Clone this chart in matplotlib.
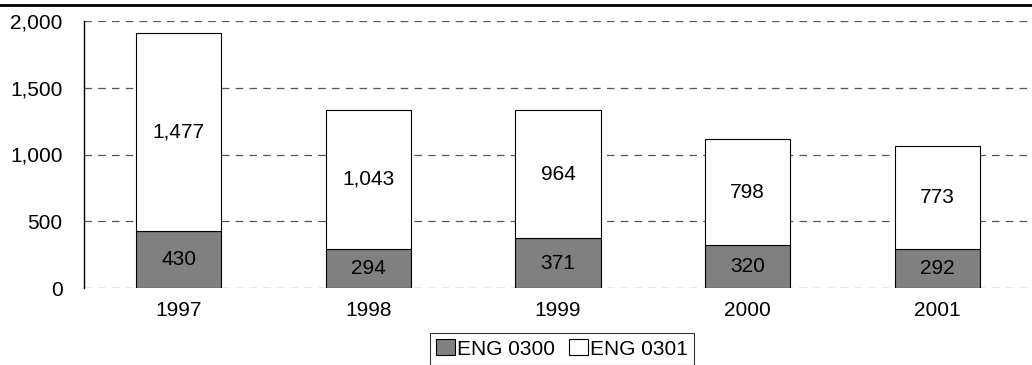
import matplotlib
matplotlib.use("Agg")
import matplotlib.pyplot as plt
from matplotlib.lines import Line2D

years = ["1997", "1998", "1999", "2000", "2001"]
eng0300 = [430, 294, 371, 320, 292]
eng0301 = [1477, 1043, 964, 798, 773]

plt.rcParams['font.family'] = ['Liberation Sans', 'DejaVu Sans']
fs = 15

fig = plt.figure(figsize=(10.32, 3.65), dpi=100)
ax = fig.add_axes([84/1032, 1 - 288/365, 948/1032, 267/365])

x = list(range(len(years)))
b1 = ax.bar(x, eng0300, width=0.45, color="#808080", edgecolor="black", linewidth=0.8,
            label="ENG 0300", zorder=3)
b2 = ax.bar(x, eng0301, width=0.45, bottom=eng0300, color="white", edgecolor="black",
            linewidth=0.8, label="ENG 0301", zorder=3)

for i in x:
    ax.text(i, eng0300[i] / 2, f"{eng0300[i]:,}", ha="center", va="center", fontsize=fs, zorder=4)
    ax.text(i, eng0300[i] + eng0301[i] / 2, f"{eng0301[i]:,}", ha="center", va="center",
            fontsize=fs, zorder=4)

ax.set_xlim(-0.5, len(years) - 0.5)
ax.set_ylim(0, 2000)
ax.set_yticks([0, 500, 1000, 1500, 2000])
ax.set_yticklabels([f"{v:,}" for v in [0, 500, 1000, 1500, 2000]], fontsize=fs)
ax.set_xticks(x)
ax.set_xticklabels(years, fontsize=fs)
ax.tick_params(axis="y", length=0, pad=15.5)
ax.tick_params(axis="x", length=0, pad=9)
ax.yaxis.grid(True, linestyle=(0, (6, 5)), color="#555555", linewidth=0.9, zorder=0)

for s in ["top", "right", "bottom"]:
    ax.spines[s].set_visible(False)
ax.spines["left"].set_linewidth(1.0)

leg = fig.legend(handles=[b1, b2], loc="center", bbox_to_anchor=(562/1032, 1 - 349/365),
                 ncol=2, fontsize=fs, frameon=True, fancybox=False, edgecolor="black",
                 handlelength=0.9, handleheight=0.8, handletextpad=0.1, columnspacing=0.7,
                 borderpad=0.3, borderaxespad=0)
leg.get_frame().set_linewidth(0.8)

fig.add_artist(Line2D([0, 1], [1 - 5/365, 1 - 5/365], color="black", linewidth=2,
                      transform=fig.transFigure))

fig.savefig("out.png", dpi=100)
